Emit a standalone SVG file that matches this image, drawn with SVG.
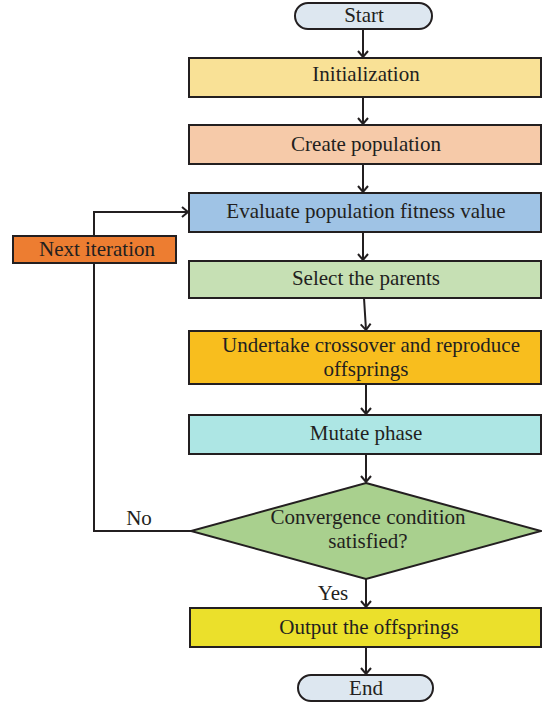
<svg xmlns="http://www.w3.org/2000/svg" width="542" height="703" viewBox="0 0 542 703">
<defs>
<style>
.n{stroke:#231f20;stroke-width:2}
.t{font-family:"Liberation Serif","DejaVu Serif",serif;font-size:21px;fill:#231f20;text-anchor:middle}
.c{fill:none;stroke:#231f20;stroke-width:2}
</style>
<marker id="a" markerWidth="12" markerHeight="12" refX="7" refY="6" orient="auto" markerUnits="userSpaceOnUse">
<path d="M1,1 L7,6 L1,11" fill="none" stroke="#231f20" stroke-width="2"/>
</marker>
</defs>
<rect width="542" height="703" fill="#fff"/>
<g id="connectors">
<path class="c" d="M363,29 V57" marker-end="url(#a)"/>
<path class="c" d="M363,97 V124" marker-end="url(#a)"/>
<path class="c" d="M363,164 V192" marker-end="url(#a)"/>
<path class="c" d="M363,232 V260" marker-end="url(#a)"/>
<path class="c" d="M364,298 L366,330" marker-end="url(#a)"/>
<path class="c" d="M366,384 V414" marker-end="url(#a)"/>
<path class="c" d="M366,454 V482" marker-end="url(#a)"/>
<path class="c" d="M366,579 V607" marker-end="url(#a)"/>
<path class="c" d="M366,647 V674" marker-end="url(#a)"/>
<path class="c" d="M191,531 H94 V263"/>
<path class="c" d="M94,236 V212 H188" marker-end="url(#a)"/>
<text class="t" x="139" y="525">No</text>
<text class="t" x="333" y="600">Yes</text>
</g>
<g id="start"><rect class="n" x="295" y="3" width="137" height="26" rx="13" fill="#dde7f0"/><text class="t" x="364" y="22">Start</text></g>
<g id="init"><rect class="n" x="189" y="58" width="352" height="39" fill="#f9e196"/><text class="t" x="366" y="81">Initialization</text></g>
<g id="create"><rect class="n" x="189" y="125" width="352" height="39" fill="#f6caa9"/><text class="t" x="366" y="151">Create population</text></g>
<g id="evaluate"><rect class="n" x="189" y="193" width="352" height="39" fill="#9fc3e5"/><text class="t" x="366" y="218">Evaluate population fitness value</text></g>
<g id="next"><rect class="n" x="13" y="236" width="163" height="27" fill="#ed7d31"/><text class="t" x="97" y="256">Next iteration</text></g>
<g id="select"><rect class="n" x="189" y="261" width="352" height="37" fill="#c6e0b4"/><text class="t" x="366" y="285">Select the parents</text></g>
<g id="crossover"><rect class="n" x="189" y="331" width="352" height="53" fill="#f8be1e"/><text class="t" x="371" y="352">Undertake crossover and reproduce</text><text class="t" x="366" y="376">offsprings</text></g>
<g id="mutate"><rect class="n" x="189" y="415" width="352" height="39" fill="#ade6e4"/><text class="t" x="366" y="440">Mutate phase</text></g>
<g id="converge"><polygon class="n" points="366,483 541,531 366,579 191,531" fill="#a9d08e"/><text class="t" x="368" y="524">Convergence condition</text><text class="t" x="368" y="548">satisfied?</text></g>
<g id="output"><rect class="n" x="190" y="608" width="351" height="39" fill="#ebe02b"/><text class="t" x="369" y="634">Output the offsprings</text></g>
<g id="end"><rect class="n" x="298" y="675" width="135" height="26" rx="13" fill="#dde7f0"/><text class="t" x="366" y="695">End</text></g>
</svg>
